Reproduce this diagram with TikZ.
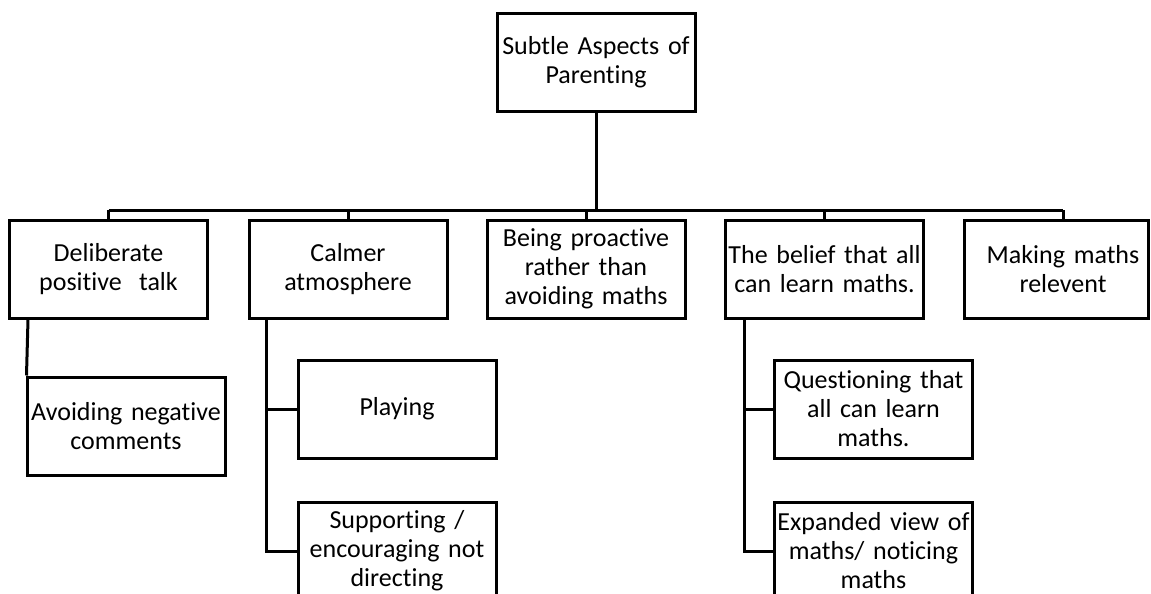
\documentclass[tikz,border=0pt]{standalone}
\usepackage{fontspec}
\setmainfont{Carlito}[Ligatures=NoCommon]
\usetikzlibrary{calc}
\begin{document}
\begin{tikzpicture}[x=1pt,y=-1pt,
  box/.style={draw, line width=3pt, minimum width=198pt, minimum height=98pt,
    inner xsep=0.5pt, inner ysep=2pt, text width=197pt, align=center,
    font=\fontsize{26}{29}\selectfont},
  link/.style={line width=3pt}]
\useasboundingbox (0,0) rectangle (1151,594);
\clip (0,0) rectangle (1151,594);

% root
\node[box] (root) at (596,62.5) {Subtle Aspects of\\ Parenting};

% first level
\node[box] (talk)   at (108.5,269) {Deliberate\\ positive~ talk};
\node[box] (calm)   at (348,269)   {Calmer\\ atmosphere};
\node[box] (proact) at (586,269)   {Being proactive\\ rather than\\ avoiding maths};
\node[box] (belief) at (824.5,269) {The belief that all\\ can learn maths.};
\node[box, minimum width=184pt, text width=183pt] (relev) at (1056,269)
  {\hspace*{14pt}\parbox[c]{169pt}{\centering Making maths\\ relevent}};

% second level
\node[box] (avoid)  at (126,426)   {Avoiding negative\\ comments};
\node[box] (play)   at (397,409)   {Playing};
\node[box] (supp)   at (397,551)   {Supporting /\\ encouraging not\\ directing};
\node[box] (quest)  at (873.5,409) {Questioning that\\ all can learn\\ maths.};
\node[box] (expand) at (873.5,551) {Expanded view of\\ maths/ noticing\\ maths};

% root to first level: trunk, bar and drops
\coordinate (bar)  at (596,210);
\coordinate (barL) at (108.5,210);
\coordinate (barR) at (1063,210);
\draw[link] (root.south) -- (bar);
\draw[link] (barL) -- (barR);
\foreach \n in {talk, calm, proact, belief} {
  \draw[link] (\n.north) -- (\n.north |- bar);
}
\draw[link] (relev.north -| barR) -- (barR);

% first level to second level
\draw[link] ($(talk.south west)+(20,0)$) -- ($(avoid.north west)+(1,0)$);
\draw[link] ($(calm.south west)+(19,0)$) |- (play.west);
\draw[link] ($(calm.south west)+(19,0)$) |- (supp.west);
\draw[link] ($(belief.south west)+(20,0)$) |- (quest.west);
\draw[link] ($(belief.south west)+(20,0)$) |- (expand.west);
\end{tikzpicture}
\end{document}
